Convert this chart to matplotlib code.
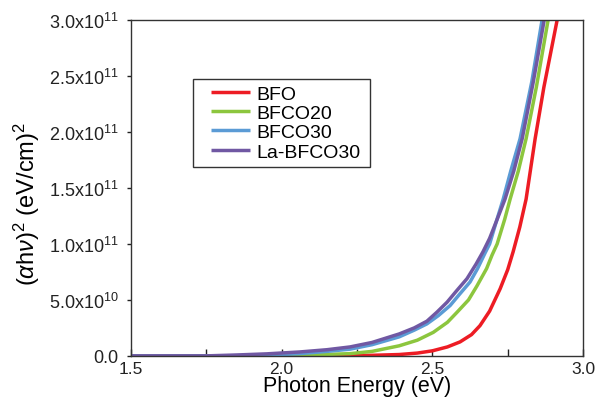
import matplotlib
matplotlib.use("Agg")
import matplotlib.pyplot as plt
from matplotlib.ticker import MultipleLocator
from matplotlib.patches import Rectangle

plt.rcParams['font.family'] = ['Liberation Sans', 'DejaVu Sans']
plt.rcParams['mathtext.fontset'] = 'custom'
plt.rcParams['mathtext.rm'] = 'Liberation Sans'
plt.rcParams['mathtext.it'] = 'Liberation Sans:italic'

# Data (y in units of 1e11 (eV/cm)^2)
bfo_E = [1.5, 1.8, 2.0, 2.2, 2.3, 2.39, 2.45, 2.50, 2.55, 2.592, 2.63, 2.658, 2.69, 2.725, 2.75, 2.768, 2.79, 2.811, 2.841, 2.87, 2.914]
bfo_v = [0, 0, 0.0, 0.002, 0.005, 0.012, 0.025, 0.045, 0.08, 0.125, 0.19, 0.27, 0.40, 0.60, 0.77, 0.93, 1.15, 1.40, 1.94, 2.4, 3.0]

bfco20_E = [1.5, 1.9, 2.0, 2.1, 2.227, 2.3, 2.39, 2.45, 2.503, 2.55, 2.582, 2.62, 2.648, 2.68, 2.698, 2.715, 2.74, 2.758, 2.785, 2.811, 2.845, 2.884]
bfco20_v = [0, 0, 0.003, 0.008, 0.02, 0.04, 0.09, 0.14, 0.21, 0.30, 0.39, 0.50, 0.625, 0.78, 0.90, 1.0, 1.22, 1.40, 1.65, 1.94, 2.4, 3.0]

bfco30_E = [1.5, 1.8, 1.95, 2.06, 2.15, 2.227, 2.3, 2.39, 2.44, 2.482, 2.52, 2.559, 2.59, 2.625, 2.65, 2.675, 2.69, 2.71, 2.735, 2.76, 2.791, 2.83, 2.864]
bfco30_v = [0, 0, 0.005, 0.02, 0.04, 0.06, 0.10, 0.17, 0.23, 0.286, 0.36, 0.45, 0.55, 0.66, 0.78, 0.92, 1.0, 1.18, 1.40, 1.65, 1.94, 2.45, 3.0]

labfco30_E = [1.5, 1.75, 1.85, 1.95, 2.06, 2.15, 2.227, 2.3, 2.39, 2.44, 2.482, 2.515, 2.549, 2.58, 2.615, 2.645, 2.668, 2.69, 2.715, 2.741, 2.77, 2.798, 2.835, 2.871]
labfco30_v = [0, 0, 0.008, 0.018, 0.035, 0.055, 0.08, 0.12, 0.196, 0.25, 0.31, 0.39, 0.48, 0.58, 0.69, 0.82, 0.93, 1.05, 1.22, 1.40, 1.65, 1.94, 2.45, 3.0]

series_names = ['BFO', 'BFCO20', 'BFCO30', 'La-BFCO30']
series_colors = ['#ED1C24', '#8CC63E', '#5B9BD5', '#7058A3']

y_ticks = [0.0, 0.5, 1.0, 1.5, 2.0, 2.5, 3.0]
y_tick_labels = ['0.0', r'5.0x10$^{10}$', r'1.0x10$^{11}$', r'1.5x10$^{11}$',
                 r'2.0x10$^{11}$', r'2.5x10$^{11}$', r'3.0x10$^{11}$']
x_ticks = [1.5, 2.0, 2.5, 3.0]
x_tick_labels = ['1.5', '2.0', '2.5', '3.0']

fig = plt.figure(figsize=(5.98, 4.06), dpi=100)
ax = fig.add_axes([0.219, 0.121, 0.756, 0.827])

data = [(bfo_E, bfo_v), (bfco20_E, bfco20_v), (bfco30_E, bfco30_v), (labfco30_E, labfco30_v)]
for (E, v), name, c in zip(data, series_names, series_colors):
    ax.plot(E, [val * 1e11 for val in v], color=c, lw=2.5, label=name, solid_capstyle='butt')

ax.set_xlim(1.5, 3.0)
ax.set_ylim(0, 3.0e11)
ax.set_xticks(x_ticks)
ax.set_xticklabels(x_tick_labels)
ax.xaxis.set_minor_locator(MultipleLocator(0.25))
ax.set_yticks([t * 1e11 for t in y_ticks])
ax.set_yticklabels(y_tick_labels)

ax.tick_params(axis='x', which='both', direction='in', length=5, width=1, labelsize=12.5, pad=4, colors='#222222')
ax.tick_params(axis='y', direction='out', length=3, width=1, labelsize=13, pad=6, colors='#222222')
for s in ax.spines.values():
    s.set_linewidth(1.0)
    s.set_color('#333333')

ax.set_xlabel('Photon Energy (eV)', fontsize=15.5, labelpad=-1)
ax.set_ylabel(r'($\alpha$h$\nu$)$^2$ (eV/cm)$^2$', fontsize=17)
ax.yaxis.set_label_coords(-0.197, 0.455)

# legend frame box
ax.add_patch(Rectangle((0.137, 0.5625), 0.392, 0.2615, transform=ax.transAxes,
                       fill=True, facecolor='white', edgecolor='#333333', lw=1.0, zorder=4))
leg = ax.legend(loc='upper left', bbox_to_anchor=(0.178, 0.807), frameon=False,
                fontsize=14, handlelength=2.0, handletextpad=0.3, borderpad=0,
                labelspacing=0.09, borderaxespad=0)
leg.set_zorder(5)
for line in leg.get_lines():
    line.set_linewidth(2.5)

fig.savefig('out.png', dpi=100)
